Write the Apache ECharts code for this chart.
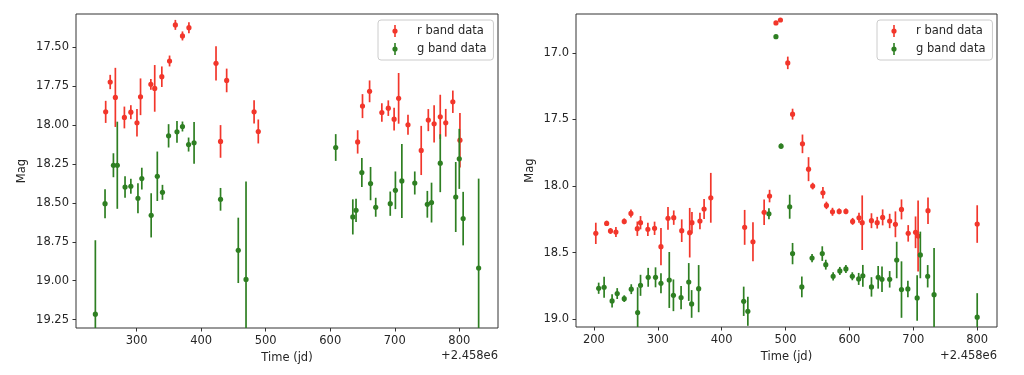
<!DOCTYPE html>
<html>
<head>
<meta charset="utf-8">
<script src="https://cdn.jsdelivr.net/npm/echarts@6/dist/echarts.min.js"></script>
<style>
html,body{margin:0;padding:0;background:#fff;}
#chart{width:1024px;height:375px;}
</style>
</head>
<body>
<div id="chart"></div>
<script>
// ---- Left panel: r band ----
const leftRedTime = [252, 259, 267, 281, 291, 300.5, 306, 322, 328, 339, 351, 360, 371, 381, 423, 430, 439.5, 482, 488.5, 642.5, 650, 661, 680, 690, 699, 706, 720.5, 741, 752, 761, 770.5, 779, 790, 801];
const leftRedMag  = [17.915, 17.723, 17.822, 17.951, 17.917, 17.985, 17.818, 17.738, 17.764, 17.689, 17.588, 17.356, 17.427, 17.374, 17.603, 18.105, 17.713, 17.915, 18.041, 18.108, 17.878, 17.783, 17.919, 17.891, 17.962, 17.828, 17.998, 18.163, 17.968, 17.992, 17.947, 17.985, 17.850, 18.097];
const leftRedErr  = [0.071, 0.046, 0.19, 0.07, 0.045, 0.088, 0.118, 0.035, 0.15, 0.066, 0.035, 0.032, 0.029, 0.035, 0.11, 0.105, 0.076, 0.075, 0.077, 0.075, 0.077, 0.07, 0.059, 0.05, 0.073, 0.163, 0.064, 0.158, 0.071, 0.12, 0.142, 0.089, 0.072, 0.175];
// ---- Left panel: g band ----
const leftGreenTime = [236, 251, 264, 270, 282, 291, 302, 308, 322.5, 332, 340, 349.5, 362.5, 371, 380.5, 389, 430, 457.5, 469.5, 608.5, 635, 640, 649, 662.5, 670.5, 693, 701, 711, 731, 750.5, 757, 770.5, 794.5, 800, 806, 830];
const leftGreenMag  = [19.215, 18.505, 18.258, 18.258, 18.398, 18.393, 18.47, 18.344, 18.58, 18.329, 18.432, 18.069, 18.043, 18.009, 18.125, 18.114, 18.477, 18.805, 18.992, 18.144, 18.59, 18.548, 18.305, 18.376, 18.528, 18.505, 18.419, 18.359, 18.372, 18.509, 18.498, 18.245, 18.462, 18.217, 18.601, 18.919];
const leftGreenErr  = [0.475, 0.093, 0.077, 0.28, 0.069, 0.048, 0.097, 0.07, 0.142, 0.159, 0.048, 0.075, 0.07, 0.032, 0.045, 0.134, 0.073, 0.21, 0.63, 0.086, 0.113, 0.075, 0.093, 0.107, 0.061, 0.078, 0.121, 0.238, 0.074, 0.086, 0.128, 0.186, 0.225, 0.193, 0.172, 0.575];
// ---- Right panel: r band ----
const rightRedTime = [203, 220, 226, 234.5, 247.5, 258, 268, 273, 284.5, 295, 305, 316, 325, 337.5, 350, 353.5, 366, 372.5, 383, 436, 449, 466.5, 475, 485, 492, 503.5, 511, 526.5, 536, 542.5, 558.5, 564, 573.5, 584, 594.5, 605, 615, 620, 634.5, 643.5, 652, 663, 672, 681.5, 692, 703.5, 707.5, 723, 800];
const rightRedMag  = [18.355, 18.28, 18.337, 18.345, 18.265, 18.205, 18.32, 18.275, 18.325, 18.317, 18.455, 18.242, 18.237, 18.335, 18.35, 18.275, 18.262, 18.172, 18.088, 18.31, 18.418, 18.197, 18.075, 16.775, 16.753, 17.075, 17.46, 17.683, 17.873, 18.0, 18.05, 18.145, 18.193, 18.19, 18.19, 18.265, 18.238, 18.275, 18.26, 18.275, 18.235, 18.262, 18.287, 18.175, 18.355, 18.347, 18.375, 18.185, 18.285];
const rightRedErr  = [0.08, 0.02, 0.022, 0.037, 0.022, 0.03, 0.054, 0.05, 0.05, 0.05, 0.14, 0.085, 0.054, 0.085, 0.186, 0.081, 0.062, 0.075, 0.187, 0.131, 0.146, 0.096, 0.047, 0.015, 0.015, 0.047, 0.041, 0.07, 0.09, 0.025, 0.044, 0.028, 0.03, 0.022, 0.022, 0.026, 0.037, 0.205, 0.056, 0.044, 0.06, 0.054, 0.097, 0.075, 0.062, 0.119, 0.266, 0.1, 0.141];
// ---- Right panel: g band ----
const rightGreenTime = [207.5, 216, 228.5, 236.5, 247.5, 258.5, 268.5, 273, 285, 296.5, 305, 318, 324.5, 336.5, 348.5, 353, 364, 434.5, 441, 474, 485, 493, 506.5, 511, 525.5, 541.5, 557.5, 563, 574.5, 585, 594.5, 604.5, 614.5, 621, 634.5, 645, 651, 663, 674, 681.5, 691.5, 706, 711, 722.5, 732.5, 800];
const rightGreenMag  = [18.767, 18.76, 18.862, 18.807, 18.845, 18.774, 18.95, 18.745, 18.685, 18.685, 18.73, 18.705, 18.82, 18.837, 18.72, 18.885, 18.77, 18.865, 18.94, 18.208, 16.878, 17.7, 18.155, 18.507, 18.757, 18.54, 18.507, 18.59, 18.677, 18.637, 18.622, 18.677, 18.697, 18.674, 18.757, 18.685, 18.7, 18.7, 18.555, 18.777, 18.772, 18.84, 18.517, 18.677, 18.815, 18.984];
const rightGreenErr  = [0.042, 0.079, 0.05, 0.041, 0.025, 0.037, 0.19, 0.079, 0.071, 0.075, 0.075, 0.21, 0.119, 0.087, 0.142, 0.104, 0.177, 0.11, 0.109, 0.041, 0.01, 0.02, 0.09, 0.08, 0.078, 0.031, 0.055, 0.037, 0.031, 0.03, 0.03, 0.03, 0.045, 0.082, 0.073, 0.085, 0.096, 0.062, 0.137, 0.212, 0.062, 0.171, 0.175, 0.084, 0.35, 0.18];

// ---- Ticks ----
const leftXTicks  = [300, 400, 500, 600, 700, 800];
const leftYTicks  = [17.5, 17.75, 18.0, 18.25, 18.5, 18.75, 19.0, 19.25];
const rightXTicks = [200, 300, 400, 500, 600, 700, 800];
const rightYTicks = [17.0, 17.5, 18.0, 18.5, 19.0];

const RED = '#f2362b';
const GREEN = '#2e7f22';
const FONT = 'DejaVu Sans';
const FS = 11.5;
const TXT = '#262626';

function pts(t, m, e) { return t.map((v, i) => [v, m[i], e[i]]); }

function renderErr(params, api) {
  const t = api.value(0), m = api.value(1), e = api.value(2);
  const c = api.coord([t, m]);
  const a = api.coord([t, m - e]);
  const b = api.coord([t, m + e]);
  const color = api.visual('color');
  return {
    type: 'group',
    children: [
      { type: 'line', shape: { x1: c[0], y1: a[1], x2: c[0], y2: b[1] }, style: { stroke: color, lineWidth: 1.7 } },
      { type: 'circle', shape: { cx: c[0], cy: c[1], r: 2.6 }, style: { fill: color } }
    ]
  };
}

const ICON = 'path://M0,0 M30,14 M12.2,1 L13.8,1 L13.8,13 L12.2,13 Z M13,4.4 A2.6,2.6 0 1 1 13,9.6 A2.6,2.6 0 1 1 13,4.4 Z';

function xAxis(idx, min, max, ticks) {
  return {
    type: 'value', gridIndex: idx, min: min, max: max,
    name: 'Time (jd)', nameLocation: 'middle', nameGap: 23,
    nameTextStyle: { fontFamily: FONT, fontSize: FS, color: TXT },
    axisLine: { show: false },
    splitLine: { show: false },
    axisTick: { show: true, length: 3.5, lineStyle: { color: '#333', width: 1 }, customValues: ticks },
    axisLabel: { fontFamily: FONT, fontSize: FS, color: TXT, margin: 7, customValues: ticks, formatter: v => String(Math.round(v)) }
  };
}
function yAxis(idx, min, max, ticks, dec, gap) {
  return {
    type: 'value', gridIndex: idx, min: min, max: max, inverse: true,
    name: 'Mag', nameLocation: 'middle', nameGap: gap, nameRotate: 90,
    nameTextStyle: { fontFamily: FONT, fontSize: FS, color: TXT },
    axisLine: { show: false },
    splitLine: { show: false },
    axisTick: { show: true, length: 3.5, lineStyle: { color: '#333', width: 1 }, customValues: ticks },
    axisLabel: { fontFamily: FONT, fontSize: FS, color: TXT, margin: 7, customValues: ticks, formatter: v => v.toFixed(dec) }
  };
}
function legend(left) {
  return {
    left: left, top: 20, orient: 'vertical',
    itemWidth: 30, itemHeight: 14, itemGap: 4,
    padding: [4, 7, 4, 4],
    backgroundColor: 'rgba(255,255,255,0.8)',
    borderColor: '#cccccc', borderWidth: 1, borderRadius: 3,
    textStyle: { fontFamily: FONT, fontSize: FS, color: TXT },
    selectedMode: false,
    data: [{ name: 'r band data', icon: ICON }, { name: 'g band data', icon: ICON }]
  };
}
function series(name, color, xi, data) {
  return {
    type: 'custom', name: name, xAxisIndex: xi, yAxisIndex: xi,
    itemStyle: { color: color }, clip: true,
    encode: { x: 0, y: 1 },
    renderItem: renderErr, data: data, animation: false
  };
}

const chart = echarts.init(document.getElementById('chart'), null, { renderer: 'canvas' });
chart.setOption({
  animation: false,
  backgroundColor: '#fff',
  grid: [
    { left: 76, top: 14, width: 422, height: 314, show: true, borderColor: '#333', borderWidth: 1, backgroundColor: 'transparent' },
    { left: 576, top: 14, width: 421, height: 313, show: true, borderColor: '#333', borderWidth: 1, backgroundColor: 'transparent' }
  ],
  xAxis: [xAxis(0, 206, 860, leftXTicks), xAxis(1, 172, 831, rightXTicks)],
  yAxis: [yAxis(0, 17.286, 19.304, leftYTicks, 2, 48), yAxis(1, 16.708, 19.058, rightYTicks, 1, 40)],
  legend: [legend(378), legend(877)],
  graphic: [
    { type: 'text', right: 1024 - 498, top: 350, style: { text: '+2.458e6', font: FS + 'px "' + FONT + '"', fill: TXT, textAlign: 'right' } },
    { type: 'text', right: 1024 - 997, top: 350, style: { text: '+2.458e6', font: FS + 'px "' + FONT + '"', fill: TXT, textAlign: 'right' } }
  ],
  series: [
    series('r band data', RED, 0, pts(leftRedTime, leftRedMag, leftRedErr)),
    series('g band data', GREEN, 0, pts(leftGreenTime, leftGreenMag, leftGreenErr)),
    series('r band data', RED, 1, pts(rightRedTime, rightRedMag, rightRedErr)),
    series('g band data', GREEN, 1, pts(rightGreenTime, rightGreenMag, rightGreenErr))
  ]
});
</script>
</body>
</html>
